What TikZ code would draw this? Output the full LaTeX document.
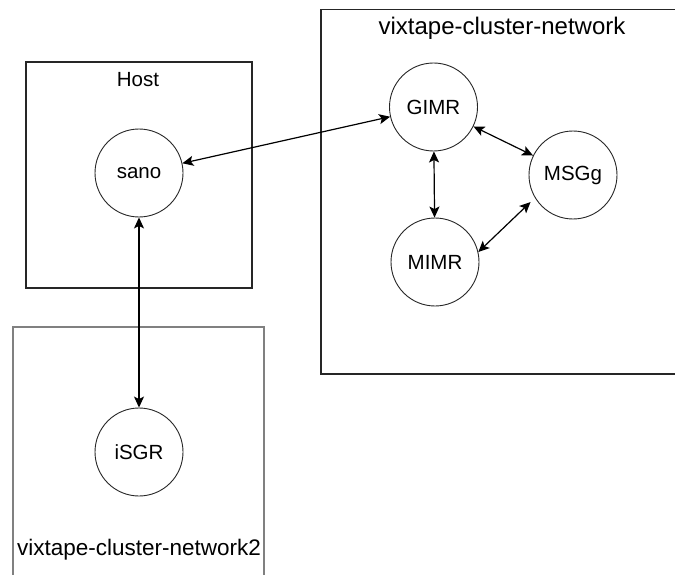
\documentclass[tikz,border=0pt]{standalone}
\usepackage{fontspec}
\setmainfont{Liberation Sans}
\usetikzlibrary{arrows.meta}
\begin{document}
\begin{tikzpicture}[x=1pt,y=-1pt,
  circ/.style={circle,draw=black!85,line width=0.9pt,minimum size=88pt,inner sep=0pt,font=\fontsize{20.5}{24}\selectfont},
  boxs/.style={draw=black!85,line width=1.3pt},
  grayboxs/.style={draw=black!50,line width=2pt},
  lbl/.style={inner sep=0pt,anchor=center},
  conn/.style={line width=1.2pt,{Stealth[length=11pt,width=10pt,inset=2.5pt]}-{Stealth[length=11pt,width=10pt,inset=2.5pt]}}
]
\useasboundingbox (0,0) rectangle (675,575);
% boxes
\draw[boxs] (26,62) rectangle (252,288);
\draw[boxs] (690,9.5) -- (321,9.5) -- (321,374) -- (690,374);
\draw[grayboxs] (13,590) -- (13,327) -- (264,327) -- (264,590);
% titles
\node[lbl,font=\fontsize{20.5}{24}\selectfont] (hostlbl) at (138,80) {Host};
\node[lbl,font=\fontsize{24}{28}\selectfont] (clulbl) at (502,28) {vixtape-cluster-network};
\node[lbl,font=\fontsize{22.5}{26}\selectfont] (clu2lbl) at (139,550) {vixtape-cluster-network2};
% nodes
\node[circ] (sano) at (139,173) {sano};
\node[circ] (GIMR) at (433.5,107) {GIMR};
\node[circ] (MSGg) at (573,175) {MSGg};
\node[circ] (MIMR) at (435,262) {MIMR};
\node[circ] (iSGR) at (139,452) {iSGR};
% connectors
\draw[conn] (sano) -- (GIMR);
\draw[conn] (sano) -- (iSGR);
\draw[conn] (GIMR) -- (MIMR);
\draw[conn] (GIMR) -- (MSGg);
\draw[conn,shorten >=6pt] (MIMR.13) -- (MSGg.211);
\end{tikzpicture}
\end{document}
